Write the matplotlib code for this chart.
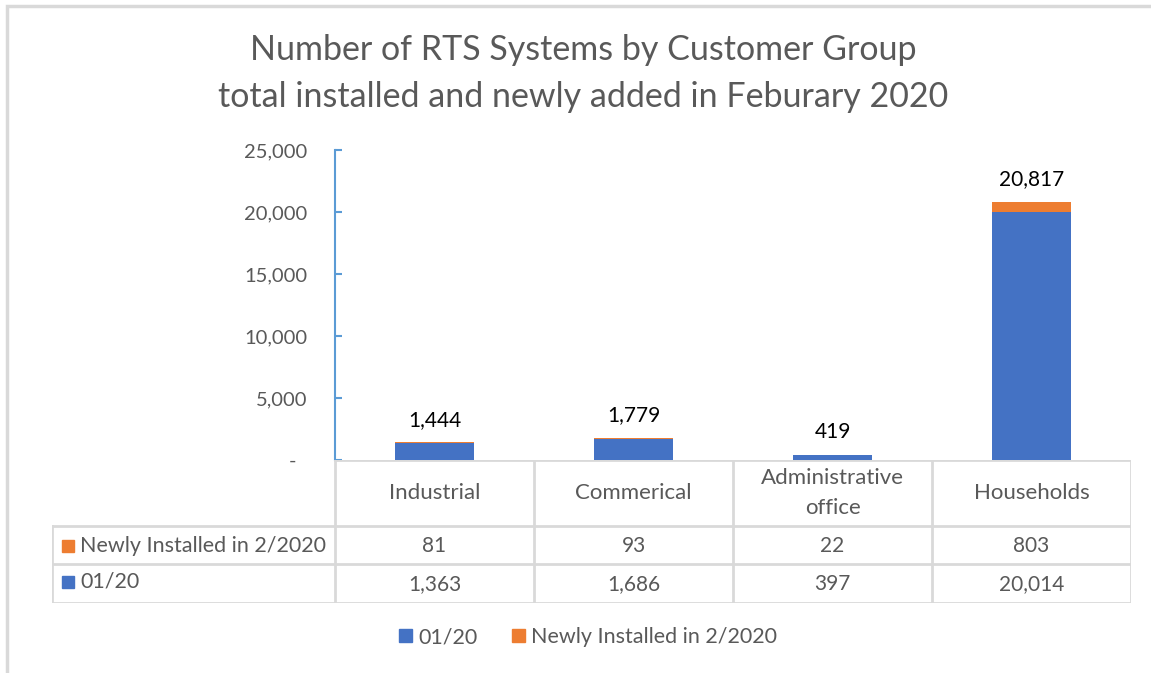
import matplotlib.pyplot as plt
from matplotlib.patches import Rectangle
from matplotlib.ticker import FuncFormatter

plt.rcParams['font.family'] = ['Lato', 'DejaVu Sans']

categories = ['Industrial', 'Commerical', 'Administrative\noffice', 'Households']
jan20 = [1363, 1686, 397, 20014]
new_feb = [81, 93, 22, 803]
totals = [1444, 1779, 419, 20817]

blue = '#4472c4'
orange = '#ed7d31'
gray_txt = '#595959'
grid_gray = '#d9d9d9'
W, H = 1151, 673

fig = plt.figure(figsize=(W / 100, H / 100), dpi=100)

# outer chart border (right and bottom edges fall off the canvas)
fig.patches.append(Rectangle((7 / W, -0.1), 1.2, (H - 6) / H + 0.1, transform=fig.transFigure,
                             fill=False, edgecolor=grid_gray, lw=2.5))

fig.text(583 / W, 1 - 50 / H, 'Number of RTS Systems by Customer Group',
         ha='center', va='center', fontsize=24.5, color=gray_txt)
fig.text(583 / W, 1 - 97 / H, 'total installed and newly added in Feburary 2020',
         ha='center', va='center', fontsize=24.5, color=gray_txt)

# main bar axes
ax = fig.add_axes([335 / W, 1 - 460 / H, 796 / W, 310 / H])
x = range(len(categories))
ax.bar(x, jan20, width=0.4, color=blue)
ax.bar(x, new_feb, bottom=jan20, width=0.4, color=orange)
for i, t in enumerate(totals):
    ax.annotate(f'{t:,}', (i, t), xytext=(0, 9), textcoords='offset points',
                ha='center', va='bottom', fontsize=15, color='black')
ax.set_xlim(-0.5, 3.5)
ax.set_ylim(0, 25000)
ax.set_yticks(range(0, 25001, 5000))
ax.yaxis.set_major_formatter(FuncFormatter(lambda v, p: '-  ' if v == 0 else f'{v:,.0f}'))
ax.tick_params(axis='y', direction='in', length=5, width=1.5, color='#5b9bd5',
               labelsize=14.5, labelcolor=gray_txt, pad=20)
ax.set_xticks([])
for s in ['top', 'right', 'bottom']:
    ax.spines[s].set_visible(False)
ax.spines['left'].set_color('#5b9bd5')
ax.spines['left'].set_linewidth(1.5)

# data table below
label_w = 283 / 199
tab = fig.add_axes([52 / W, 1 - 603 / H, 1079 / W, 143 / H])
tab.set_xlim(-0.5 - label_w, 3.5)
tab.set_ylim(143, 0)
tab.axis('off')
lc = dict(color=grid_gray, lw=2, solid_capstyle='projecting')
tab.plot([-0.5, 3.5], [0, 0], **lc)
tab.plot([-0.5 - label_w, 3.5], [66, 66], **lc)
tab.plot([-0.5 - label_w, 3.5], [104, 104], **lc)
tab.plot([-0.5 - label_w, 3.5], [143, 143], **lc)
tab.plot([-0.5 - label_w, -0.5 - label_w], [66, 143], **lc)
for b in [-0.5, 0.5, 1.5, 2.5, 3.5]:
    tab.plot([b, b], [0, 143], **lc)

for i, c in enumerate(categories):
    tab.text(i, 33, c, ha='center', va='center', fontsize=16, color=gray_txt,
             linespacing=1.6)
    tab.text(i, 86, f'{new_feb[i]:,}', ha='center', va='center', fontsize=15, color=gray_txt)
    tab.text(i, 124, f'{jan20[i]:,}', ha='center', va='center', fontsize=15, color=gray_txt)

rows = [('Newly Installed in 2/2020', orange, 86), ('01/20', blue, 122)]
x0 = -0.5 - label_w
for name, col, yy in rows:
    tab.add_patch(Rectangle((x0 + 10 / 199, yy - 6), 12 / 199, 12, color=col))
    tab.text(x0 + 28 / 199, yy, name, ha='left', va='center', fontsize=15.5, color=gray_txt)

# legend
h1 = Rectangle((0, 0), 1, 1, color=blue)
h2 = Rectangle((0, 0), 1, 1, color=orange)
fig.legend([h1, h2], ['01/20', 'Newly Installed in 2/2020'], loc='center',
           bbox_to_anchor=(588 / W, 1 - 637 / H), ncol=2, frameon=False,
           fontsize=15.5, labelcolor=gray_txt, handlelength=0.6, handleheight=0.6,
           handletextpad=0.3, columnspacing=1.6)

fig.savefig('out.png', dpi=100)
